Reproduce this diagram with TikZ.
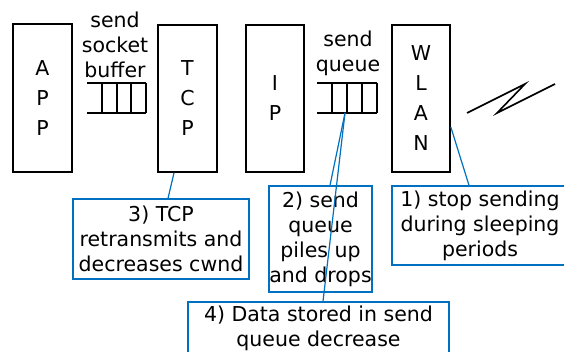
\documentclass[tikz,border=0pt]{standalone}
\usepackage{fontspec}
\setmainfont{DejaVu Sans}
\definecolor{noteblue}{RGB}{0,112,192}
\begin{document}
\begin{tikzpicture}[x=1pt,y=-1pt,
  layerbox/.style={draw, line width=1.6pt, minimum width=58pt, minimum height=147pt,
    align=center, inner sep=0pt, font=\fontsize{20.5}{30}\selectfont},
  notebox/.style={draw=noteblue, line width=1.3pt, align=center, inner sep=0pt,
    font=\fontsize{20.5}{25}\selectfont},
  label/.style={align=center, inner sep=0pt, font=\fontsize{20.5}{25}\selectfont},
  queueline/.style={line width=1.6pt},
  lead/.style={draw=noteblue, line width=1.2pt}]
\useasboundingbox (0,0) rectangle (564,352);

% protocol layers
\node[layerbox, minimum width=59pt, minimum height=148pt] (app) at (42.5,98) {A\\P\\P};
\node[layerbox, minimum width=59pt] (tcp) at (187.5,98.5) {T\\C\\P};
\node[layerbox] (ip) at (275,98.5) {I\\P};
\node[layerbox] (wlan) at (421,98.5) {W\\L\\A\\N};

% send socket buffer
\node[label] (sbl) at (115,45) {send\\socket\\buffer};
\draw[queueline] (87,83) -- (146,83) (87,113) -- (146,113);
\foreach \x in {102,117,131,146} \draw[queueline] (\x,83) -- (\x,113);

% send queue
\node[label] (sql) at (348,53.5) {send\\queue};
\draw[queueline] (317,83) -- (377,83) (317,113) -- (377,113);
\foreach \x in {332,347,362,377} \draw[queueline] (\x,83) -- (\x,113);
\coordinate (qbot) at (345,113);

% wireless link
\draw[queueline] (467,113) -- (525,84) -- (497,113) -- (555,84);

% callouts
\node[notebox, minimum width=176pt, minimum height=80pt] (n3) at (161,239)
  {3) TCP\\retransmits and\\decreases cwnd};
\node[notebox, minimum width=103pt, minimum height=106pt] (n2) at (320.5,239)
  {2) send\\queue\\piles up\\and drops};
\node[notebox, minimum width=176pt, minimum height=79pt] (n1) at (480,225.5)
  {1) stop sending\\during sleeping\\periods};
\node[notebox, minimum width=261pt, minimum height=52pt] (n4) at (318.5,328)
  {4) Data stored in send\\queue decrease};

% leader lines
\draw[lead] ([xshift=-13.5pt]tcp.south) -- ([xshift=7pt]n3.north);
\draw[lead] ([yshift=-28.5pt]wlan.east) -- ([xshift=-11pt]n1.north);
\draw[lead] (qbot) -- ([xshift=9.5pt]n2.north);
\draw[lead] (qbot) -- ([xshift=4.5pt]n4.north);
\end{tikzpicture}
\end{document}
